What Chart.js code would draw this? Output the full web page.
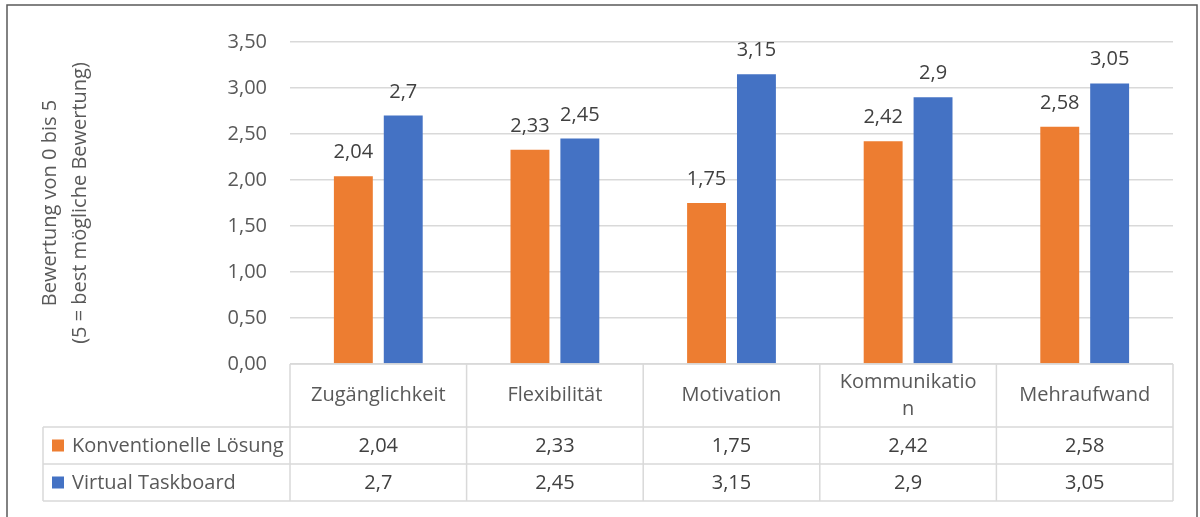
<!DOCTYPE html>
<html><head><meta charset="utf-8">
<script src="https://cdn.jsdelivr.net/npm/chart.js@4"></script>
<style>html,body{margin:0;padding:0;background:#fff;} #wrap{position:relative;width:1200px;height:517px;}</style>
</head><body><div id="wrap"><canvas id="c" width="1200" height="517"></canvas></div>
<script>
const categories = ['Zugänglichkeit', 'Flexibilität', 'Motivation', 'Kommunikation', 'Mehraufwand'];
const seriesNames = ['Konventionelle Lösung', 'Virtual Taskboard'];
const konventionell = [2.04, 2.33, 1.75, 2.42, 2.58];
const virtualTaskboard = [2.7, 2.45, 3.15, 2.9, 3.05];
const yTicks = [0, 0.5, 1, 1.5, 2, 2.5, 3, 3.5];
const yTitle = ['Bewertung von 0 bis 5', '(5 = best mögliche Bewertung)'];
const seriesColors = ['#ED7D31', '#4472C4'];

const FONT = '"Open Sans", "DejaVu Sans", sans-serif';
const fmt = v => String(v).replace('.', ',');

function wrapChars(ctx, text, maxW) {
  if (ctx.measureText(text).width <= maxW) return [text];
  const lines = []; let cur = '';
  for (const ch of text) {
    if (ctx.measureText(cur + ch).width > maxW && cur) { lines.push(cur); cur = ch; }
    else cur += ch;
  }
  if (cur) lines.push(cur);
  return lines;
}

const framePlugin = {
  id: 'frame',
  beforeDraw(chart) {
    const ctx = chart.ctx;
    ctx.save();
    ctx.fillStyle = '#fff';
    ctx.fillRect(0, 0, chart.width, chart.height);
    ctx.strokeStyle = '#595959';
    ctx.lineWidth = 1.5;
    ctx.strokeRect(7, 5, 1190, 600);
    ctx.restore();
  }
};

const labelPlugin = {
  id: 'barLabels',
  afterDatasetsDraw(chart) {
    const ctx = chart.ctx;
    ctx.save();
    ctx.font = '20px ' + FONT;
    ctx.fillStyle = '#404040';
    ctx.textAlign = 'center';
    ctx.textBaseline = 'alphabetic';
    chart.data.datasets.forEach((ds, di) => {
      const meta = chart.getDatasetMeta(di);
      meta.data.forEach((bar, i) => {
        ctx.fillText(fmt(ds.data[i]), bar.x, bar.y - 18);
      });
    });
    ctx.restore();
  }
};

const tablePlugin = {
  id: 'dataTable',
  afterDraw(chart) {
    const { ctx, chartArea: ca, scales: { x } } = chart;
    const n = categories.length;
    const cw = (ca.right - ca.left) / n;
    const top = ca.bottom, hdrB = top + 63, r1B = hdrB + 37, r2B = r1B + 37;
    const legL = 43;
    ctx.save();
    ctx.strokeStyle = '#d9d9d9';
    ctx.lineWidth = 1.5;
    ctx.beginPath();
    ctx.moveTo(ca.left, top); ctx.lineTo(ca.right, top);
    [hdrB, r1B, r2B].forEach(y => { ctx.moveTo(legL, y); ctx.lineTo(ca.right, y); });
    ctx.moveTo(legL, hdrB); ctx.lineTo(legL, r2B);
    for (let i = 0; i <= n; i++) {
      const ex = i < n ? x.getPixelForValue(i) - cw / 2 : x.getPixelForValue(n - 1) + cw / 2;
      ctx.moveTo(ex, top); ctx.lineTo(ex, r2B);
    }
    ctx.stroke();

    ctx.font = '20px ' + FONT;
    ctx.textAlign = 'center';
    ctx.textBaseline = 'middle';
    const hdrMid = (top + hdrB) / 2;
    categories.forEach((c, i) => {
      const cx = x.getPixelForValue(i);
      ctx.fillStyle = '#595959';
      const lines = wrapChars(ctx, c, 140);
      const lh = 27;
      lines.forEach((ln, k) => {
        ctx.fillText(ln, cx, hdrMid + (k - (lines.length - 1) / 2) * lh);
      });
      ctx.fillStyle = '#404040';
      ctx.fillText(fmt(konventionell[i]), cx, (hdrB + r1B) / 2 + 1);
      ctx.fillText(fmt(virtualTaskboard[i]), cx, (r1B + r2B) / 2 + 1);
    });

    const rows = [(hdrB + r1B) / 2, (r1B + r2B) / 2];
    ctx.textAlign = 'left';
    seriesNames.forEach((s, k) => {
      ctx.fillStyle = seriesColors[k];
      ctx.fillRect(52, rows[k] - 6, 12, 12);
      ctx.fillStyle = '#595959';
      ctx.fillText(s, 72, rows[k] + 1);
    });
    ctx.restore();
  }
};

new Chart(document.getElementById('c'), {
  type: 'bar',
  data: {
    labels: categories,
    datasets: [
      { label: seriesNames[0], data: konventionell, backgroundColor: seriesColors[0], categoryPercentage: 0.565, barPercentage: 0.78 },
      { label: seriesNames[1], data: virtualTaskboard, backgroundColor: seriesColors[1], categoryPercentage: 0.565, barPercentage: 0.78 }
    ]
  },
  options: {
    responsive: false,
    animation: false,
    devicePixelRatio: 1,
    layout: { padding: { left: 0, top: 42, right: 27, bottom: 153 } },
    plugins: { legend: { display: false }, tooltip: { enabled: false }, title: { display: false } },
    scales: {
      x: { display: false },
      y: {
        min: 0, max: 3.5,
        afterBuildTicks(scale) { scale.ticks = yTicks.map(v => ({ value: v })); },
        afterFit(scale) { scale.width = 290; },
        ticks: {
          color: '#595959',
          font: { family: FONT, size: 20 },
          padding: 23,
          callback: v => Number(v).toFixed(2).replace('.', ',')
        },
        grid: { color: '#d9d9d9', lineWidth: 1.5, drawTicks: false },
        border: { display: false },
        title: {
          display: true,
          text: yTitle,
          color: '#595959',
          font: { family: FONT, size: 20, lineHeight: 1.5 },
          padding: { top: 35, bottom: 0 }
        }
      }
    }
  },
  plugins: [framePlugin, labelPlugin, tablePlugin]
});
</script>
</body></html>
